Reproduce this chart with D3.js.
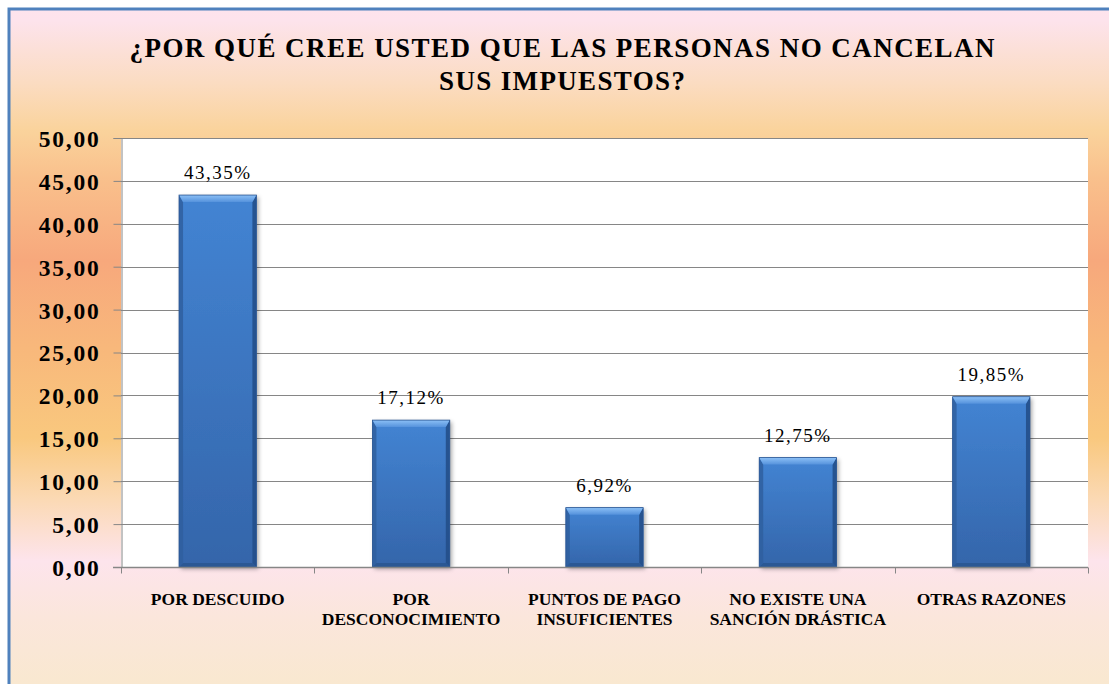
<!DOCTYPE html>
<html lang="es">
<head>
<meta charset="utf-8">
<script src="https://cdn.jsdelivr.net/npm/d3@7/dist/d3.min.js"></script>
<style>
  html, body { margin: 0; padding: 0; background: #ffffff; }
  svg { display: block; }
  text { font-family: "Liberation Serif", "Times New Roman", serif; fill: #000; }
</style>
</head>
<body>
<svg id="chart" width="1109" height="684"></svg>
<script>
// Survey answers: reasons people do not pay their taxes (percent)
const categories = [
  ["POR DESCUIDO"],
  ["POR", "DESCONOCIMIENTO"],
  ["PUNTOS DE PAGO", "INSUFICIENTES"],
  ["NO EXISTE UNA", "SANCIÓN DRÁSTICA"],
  ["OTRAS RAZONES"]
];
const values = [43.35, 17.12, 6.92, 12.75, 19.85];
const valueLabels = ["43,35%", "17,12%", "6,92%", "12,75%", "19,85%"];
const yTicks = [0, 5, 10, 15, 20, 25, 30, 35, 40, 45, 50];
const titleLines = ["¿POR QUÉ CREE USTED QUE LAS PERSONAS NO CANCELAN", "SUS IMPUESTOS?"];

const W = 1109, H = 684;
const plot = { left: 121, right: 1088, top: 138, bottom: 567 };
const svg = d3.select("#chart");
const defs = svg.append("defs");

// Chart-area background: vertical sunset gradient
const bg = defs.append("linearGradient").attr("id", "bgGrad")
  .attr("gradientUnits", "userSpaceOnUse")
  .attr("x1", 0).attr("y1", 0).attr("x2", 0).attr("y2", H);
[
  [0.00, "#fde4ee"], [0.03, "#fde3ec"], [0.12, "#fbdcc2"], [0.19, "#fad39c"],
  [0.26, "#f9c08c"], [0.38, "#f7a87c"], [0.51, "#f8b87b"], [0.64, "#f9c87e"],
  [0.73, "#fbd9b4"], [0.82, "#fde4ec"], [0.90, "#fbe6dc"], [1.00, "#f9e8d0"]
].forEach(([o, c]) => bg.append("stop").attr("offset", o).attr("stop-color", c));

// Bar body and bevel gradients
const body = defs.append("linearGradient").attr("id", "barBody")
  .attr("x1", 0).attr("y1", 0).attr("x2", 0).attr("y2", 1);
body.append("stop").attr("offset", 0).attr("stop-color", "#4384d3");
body.append("stop").attr("offset", 1).attr("stop-color", "#3465aa");

const bevelTop = defs.append("linearGradient").attr("id", "bevelTop")
  .attr("x1", 0).attr("y1", 0).attr("x2", 0).attr("y2", 1);
bevelTop.append("stop").attr("offset", 0).attr("stop-color", "#8cc0f6");
bevelTop.append("stop").attr("offset", 1).attr("stop-color", "#5592dc");

const shadow = defs.append("filter").attr("id", "barShadow")
  .attr("x", "-20%").attr("y", "-10%").attr("width", "150%").attr("height", "130%");
shadow.append("feDropShadow").attr("dx", 2).attr("dy", 2)
  .attr("stdDeviation", 2.2).attr("flood-color", "#000").attr("flood-opacity", 0.35);

// Background and blue frame
svg.append("rect").attr("x", 9).attr("y", 9).attr("width", W).attr("height", H)
  .attr("fill", "url(#bgGrad)").attr("stroke", "#4f81bd").attr("stroke-width", 3);

// Title
svg.append("g").selectAll("text").data(titleLines).join("text")
  .attr("x", 562)
  .attr("y", (d, i) => 57 + i * 33)
  .attr("text-anchor", "middle")
  .attr("font-size", 27).attr("font-weight", "bold")
  .attr("textLength", (d, i) => i === 0 ? 865 : 246)
  .attr("lengthAdjust", "spacing")
  .text(d => d);

// Scales
const x = d3.scaleBand().domain(d3.range(categories.length))
  .range([plot.left, plot.right]).paddingInner(0.6).paddingOuter(0.3);
const xOuter = d3.scaleBand().domain(d3.range(categories.length))
  .range([plot.left, plot.right]);
const y = d3.scaleLinear().domain([0, 50]).range([plot.bottom, plot.top]);

// Plot area
svg.append("rect").attr("x", plot.left).attr("y", plot.top)
  .attr("width", plot.right - plot.left).attr("height", plot.bottom - plot.top)
  .attr("fill", "#ffffff");

// Gridlines
svg.append("g").selectAll("line").data(yTicks.filter(t => t > 0)).join("line")
  .attr("x1", plot.left).attr("x2", plot.right)
  .attr("y1", d => Math.round(y(d)) + 0.5).attr("y2", d => Math.round(y(d)) + 0.5)
  .attr("stroke", "#868686").attr("stroke-width", 1);

// Y axis
const yAxis = svg.append("g").attr("transform", `translate(${plot.left + 0.5},0)`)
  .call(d3.axisLeft(y).tickValues(yTicks).tickSize(8).tickPadding(13)
    .tickFormat(d => d3.format(".2f")(d).replace(".", ",")));
yAxis.select(".domain").attr("stroke", "#868686");
yAxis.selectAll(".tick line").attr("stroke", "#868686");
yAxis.selectAll(".tick text")
  .attr("font-family", "Liberation Serif, Times New Roman, serif")
  .attr("font-size", 23.5).attr("font-weight", "bold")
  .attr("letter-spacing", 1.8).attr("dy", "0.36em").attr("fill", "#000");

// Bars with bevel and shadow
const bars = svg.append("g").selectAll("g").data(values).join("g");
bars.each(function (v, i) {
  const g = d3.select(this);
  const x0 = x(i), bw = x.bandwidth();
  const y0 = y(v), y1 = y(0);
  const h = y1 - y0;
  const tb = 7, sb = 4, bb = 4;
  g.append("rect").attr("x", x0).attr("y", y0).attr("width", bw).attr("height", h)
    .attr("fill", "url(#barBody)").attr("filter", "url(#barShadow)");
  // left / right edges
  g.append("polygon").attr("points", [[x0, y0], [x0 + sb, y0 + tb], [x0 + sb, y1 - bb], [x0, y1]].join(" "))
    .attr("fill", "#2f5f9f").attr("opacity", 0.85);
  g.append("polygon").attr("points", [[x0 + bw, y0], [x0 + bw - sb, y0 + tb], [x0 + bw - sb, y1 - bb], [x0 + bw, y1]].join(" "))
    .attr("fill", "#244f8a").attr("opacity", 0.9);
  // bottom edge
  g.append("polygon").attr("points", [[x0, y1], [x0 + sb, y1 - bb], [x0 + bw - sb, y1 - bb], [x0 + bw, y1]].join(" "))
    .attr("fill", "#2b5894");
  // top bevel
  g.append("polygon").attr("points", [[x0, y0], [x0 + bw, y0], [x0 + bw - sb, y0 + tb], [x0 + sb, y0 + tb]].join(" "))
    .attr("fill", "url(#bevelTop)");
  g.append("rect").attr("x", x0).attr("y", y0).attr("width", bw).attr("height", h)
    .attr("fill", "none").attr("stroke", "#2a5592").attr("stroke-width", 0.8);
});

// X axis
const xAxis = svg.append("g").attr("transform", `translate(0,${plot.bottom + 0.5})`);
xAxis.append("line").attr("x1", plot.left - 8).attr("x2", plot.right)
  .attr("stroke", "#868686").attr("stroke-width", 1.5);
xAxis.selectAll("line.tick").data(d3.range(categories.length + 1)).join("line")
  .attr("class", "tick")
  .attr("x1", i => Math.round(i < categories.length ? xOuter(i) : plot.right) + 0.5)
  .attr("x2", i => Math.round(i < categories.length ? xOuter(i) : plot.right) + 0.5)
  .attr("y1", 0).attr("y2", 6).attr("stroke", "#868686");

// Category labels
svg.append("g").selectAll("text").data(categories).join("text")
  .attr("text-anchor", "middle")
  .attr("font-size", 17.5).attr("font-weight", "bold")
  .each(function (lines, i) {
    const cx = xOuter(i) + xOuter.bandwidth() / 2;
    d3.select(this).selectAll("tspan").data(lines).join("tspan")
      .attr("x", cx).attr("y", (d, j) => 605 + j * 19.5).text(d => d);
  });

// Value labels
svg.append("g").selectAll("text").data(values).join("text")
  .attr("x", (d, i) => x(i) + x.bandwidth() / 2)
  .attr("y", d => y(d) - 16)
  .attr("text-anchor", "middle")
  .attr("font-size", 19).attr("letter-spacing", 1.5)
  .text((d, i) => valueLabels[i]);
</script>
</body>
</html>
